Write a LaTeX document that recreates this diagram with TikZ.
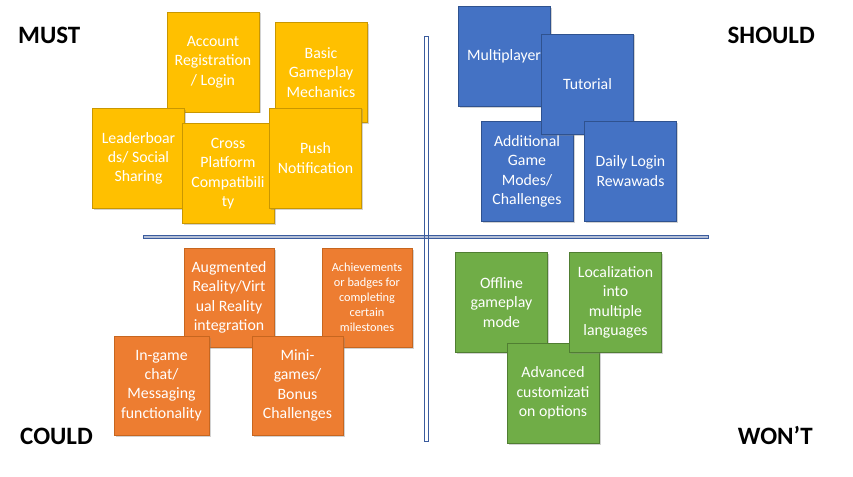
\documentclass[tikz,border=0pt]{standalone}
\usepackage{fontspec}
\setmainfont{Carlito}
\usetikzlibrary{shadows}

\definecolor{mustfill}{HTML}{FFC000}
\definecolor{mustedge}{HTML}{C99700}
\definecolor{shouldfill}{HTML}{4472C4}
\definecolor{shouldedge}{HTML}{2F528F}
\definecolor{couldfill}{HTML}{ED7D31}
\definecolor{couldedge}{HTML}{C7661F}
\definecolor{wontfill}{HTML}{70AD47}
\definecolor{wontedge}{HTML}{507E32}
\definecolor{axisedge}{HTML}{3B5C9E}
\definecolor{axisfill}{HTML}{B4BFD6}

\tikzset{
  note/.style={minimum width=92pt, minimum height=100pt, inner sep=1pt,
    align=center, text=white, line width=0.8pt,
    font=\fontsize{15.8}{19.3}\selectfont,
    drop shadow={shadow xshift=1.5pt, shadow yshift=-1.5pt, opacity=0.35}},
  mustnote/.style={note, fill=mustfill, draw=mustedge},
  shouldnote/.style={note, fill=shouldfill, draw=shouldedge},
  couldnote/.style={note, fill=couldfill, draw=couldedge},
  wontnote/.style={note, fill=wontfill, draw=wontedge},
  quad/.style={inner sep=0pt, font=\fontsize{25}{30}\selectfont\bfseries}
}

\begin{document}
\begin{tikzpicture}[x=1pt, y=-1pt]
    \useasboundingbox[fill=white] (0,0) rectangle (853,476);
    % Draw the two axes
    \draw[axisedge, fill=white, line width=0.8pt] (424,36) rectangle (428,441);
    \draw[axisedge, fill=axisfill, line width=0.8pt] (143,235) rectangle (708,238.5);
    \draw[axisedge, line width=0.8pt] (424,36) rectangle (428,441);
    % Quadrant titles
    \node[quad, anchor=base west] (must) at (18,44) {MUST};
    \node[quad, anchor=base east] (should) at (815,44) {SHOULD};
    \node[quad, anchor=base west] (could) at (20,444) {COULD};
    \node[quad, anchor=base east] (wont) at (813,444) {WON’T};
    % Must notes
    \foreach \n/\x/\y/\t in {acct/213/62/{Account\\Registration\\/ Login},
        basic/321/72.5/{Basic\\Gameplay\\Mechanics},
        board/138.5/158.5/{Leaderboar\\ds/ Social\\Sharing},
        cross/228/173.5/{Cross\\Platform\\Compatibili\\ty},
        push/315.5/158/{Push\\Notification}} {
        \node[mustnote] (\n) at (\x,\y) {\t};
    }
    % Should notes
    \foreach \n/\x/\y/\t in {multi/504/56.5/{Multiplayer},
        modes/527/171.5/{Additional\\Game\\Modes/\\Challenges},
        tutorial/587.5/84/{Tutorial},
        daily/630.5/171/{Daily Login\\Rewawads}} {
        \node[shouldnote] (\n) at (\x,\y) {\t};
    }
    % Could notes
    \node[couldnote, minimum width=90pt, minimum height=99pt] (arvr) at (229,297.5)
        {Augmented\\Reality/Virt\\ual Reality\\integration};
    \node[couldnote, minimum width=90pt, minimum height=99pt,
        font=\fontsize{12.3}{15}\selectfont] (badges) at (367,297.5)
        {Achievements\\or badges for\\completing\\certain\\milestones};
    \node[couldnote, minimum width=95pt, minimum height=99pt] (chat) at (161.5,385.5)
        {In-game\\chat/\\Messaging\\functionality};
    \node[couldnote, minimum width=91pt, minimum height=99pt] (minigames) at (297.5,385.5)
        {Mini-\\games/\\Bonus\\Challenges};
    % Won't notes
    \foreach \n/\x/\y/\t in {offline/501.5/302.5/{Offline\\gameplay\\mode},
        custom/553/393/{Advanced\\customizati\\on options},
        langs/615.5/302.5/{Localization\\into\\multiple\\languages}} {
        \node[wontnote] (\n) at (\x,\y) {\t};
    }
\end{tikzpicture}
\end{document}
